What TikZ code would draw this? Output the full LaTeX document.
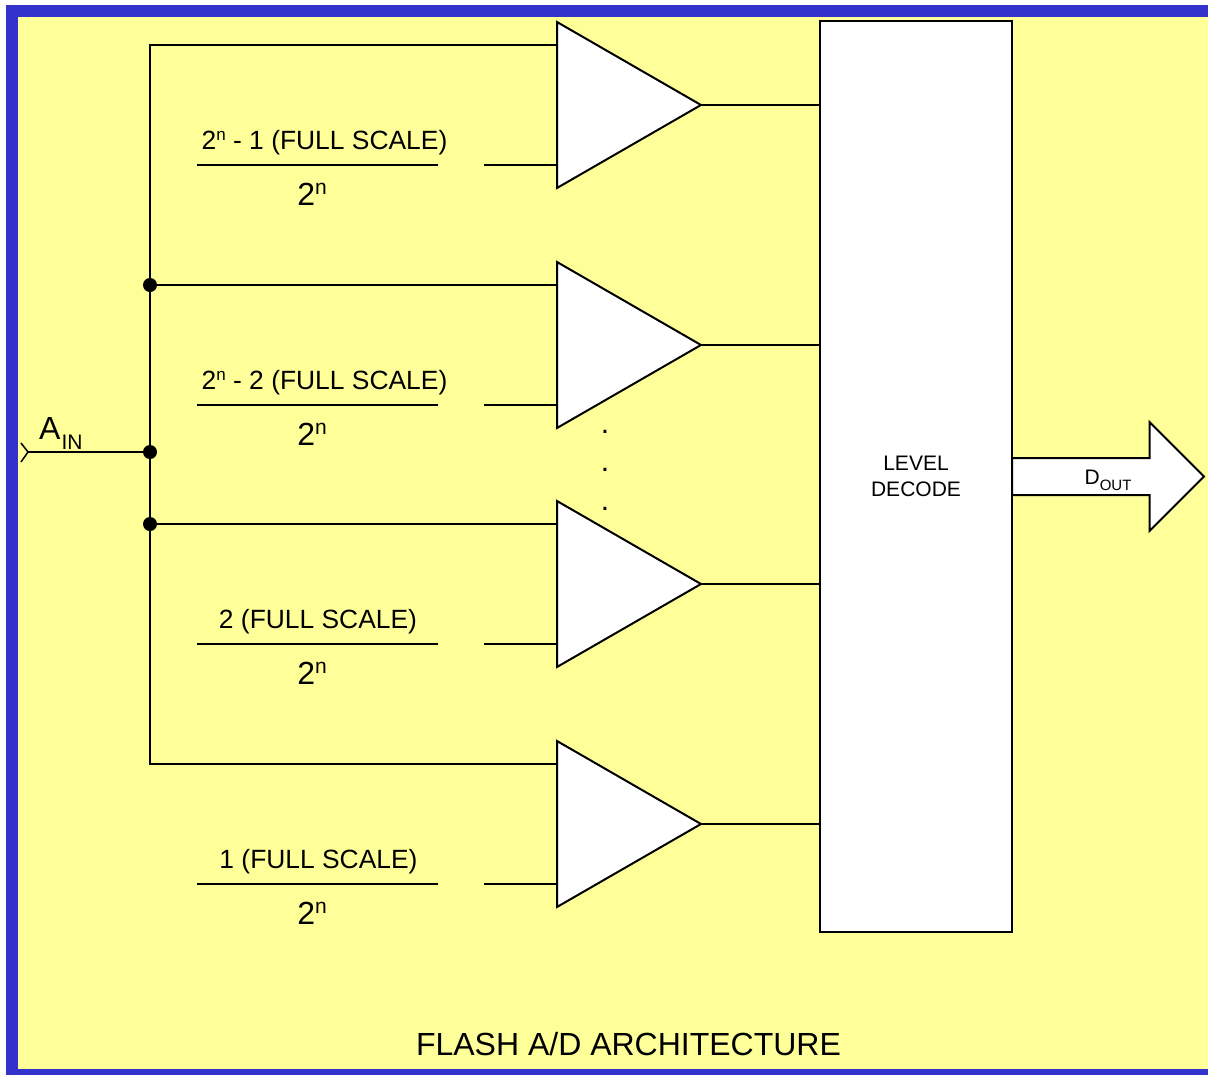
\documentclass[tikz,border=0pt]{standalone}
\usepackage{fontspec}
\setmainfont{Liberation Sans}
\usetikzlibrary{arrows.meta,positioning,shapes.geometric,shapes.arrows}
\newcommand{\sizedtext}[2]{{\fontsize{#1}{#1}\selectfont #2}}
\newcommand{\upn}[1]{\raisebox{0.34em}{\sizedtext{#1}{n}}}
\newcommand{\lowtext}[2]{\raisebox{-0.32em}{\sizedtext{#1}{#2}}}
\definecolor{framecolor}{RGB}{51,51,204}
\definecolor{pagecolor}{RGB}{255,255,153}
\tikzset{
    wire/.style={line width=2pt},
    comparator/.style={isosceles triangle,isosceles triangle stretches,draw,fill=white,line width=2pt,
        minimum width=166pt,minimum height=144pt,inner sep=0pt,outer sep=0pt,anchor=lower side},
    decodebox/.style={rectangle,draw,fill=white,line width=2pt,align=center,minimum width=192pt,minimum height=911pt,
        inner sep=0pt,outer sep=0pt,font=\fontsize{21}{25.5}\selectfont},
    busarrow/.style={single arrow,draw,fill=white,line width=2pt,minimum height=192pt,
        single arrow head extend=36pt,single arrow tip angle=90,inner xsep=0pt,inner ysep=17.5pt,outer sep=0pt,anchor=tail},
    junction/.style={circle,fill=black,minimum size=14pt,inner sep=0pt},
    reflabel/.style={anchor=base,inner sep=0pt,font=\fontsize{26.4}{30}\selectfont},
    refdenom/.style={anchor=base,inner sep=0pt,font=\fontsize{32}{36}\selectfont},
    dotlabel/.style={anchor=base,inner sep=0pt,font=\fontsize{30}{30}\selectfont}
}
\begin{document}
\begin{tikzpicture}[x=1pt,y=-1pt]
    \useasboundingbox (0,0) rectangle (1208,1076);
    \fill[white] (0,0) rectangle (1208,1076);
    \fill[framecolor] (6,5) rectangle (1208,1075);
    \fill[pagecolor] (18,17) rectangle (1208,1069);

    \node[decodebox] (decode) at (916,476.5) {LEVEL\\DECODE};
    \node[busarrow] (dout) at (decode.east |- 0,476.5) {};
    \node[anchor=base,inner sep=0pt,font=\fontsize{21}{25}\selectfont] (doutlabel) at (1108,484) {D\lowtext{15}{OUT}};

    \coordinate (bustop) at (150,45);
    \coordinate (busbot) at (150,764);
    \coordinate (ainend) at (28,452);
    \coordinate (ainup) at (21,443);
    \coordinate (aindown) at (21,462);
    \node[junction] (j1) at (150,285) {};
    \node[junction] (j2) at (150,452) {};
    \node[junction] (j3) at (150,524) {};

    \foreach \n/\y/\xl/\txt in {
        1/105/324.5/{2\upn{17} - 1 (FULL SCALE)},
        2/345/324.5/{2\upn{17} - 2 (FULL SCALE)},
        3/584/318/{2 (FULL SCALE)},
        4/824/318.5/{1 (FULL SCALE)}}{
        \node[comparator] (comp\n) at (557,\y) {};
        \coordinate (plus\n) at (557,\y-60);
        \coordinate (minus\n) at (557,\y+60);
        \coordinate (stub\n) at (484,\y+60);
        \coordinate (ruleleft\n) at (197,\y+60);
        \coordinate (ruleright\n) at (438,\y+60);
        \node[reflabel] (ref\n) at (\xl,\y+44) {\txt};
        \node[refdenom] (den\n) at (312,\y+100) {2\upn{21}};
        \draw[wire] (stub\n) -- (minus\n);
        \draw[wire] (ruleleft\n) -- (ruleright\n);
        \draw[wire] (comp\n.apex) -- (comp\n.apex -| decode.west);
    }
    \draw[wire] (plus1) -- (bustop) -- (busbot) -- (plus4);
    \draw[wire] (j1) -- (plus2);
    \draw[wire] (j3) -- (plus3);
    \draw[wire] (ainend) -- (j2);
    \draw[line width=1.5pt] (ainup) -- (ainend) -- (aindown);

    \node[anchor=base west,inner sep=0pt,font=\fontsize{32}{36}\selectfont] (ain) at (39,439) {A\kern1pt\lowtext{21}{IN}};

    \node[dotlabel] (dota) at (605,433) {.};
    \node[dotlabel] (dotb) at (605,471) {.};
    \node[dotlabel] (dotc) at (605,510) {.};

    \node[anchor=base,inner sep=0pt,font=\fontsize{32}{36}\selectfont] (title) at (628.5,1055) {FLASH A/D ARCHITECTURE};
\end{tikzpicture}
\end{document}
